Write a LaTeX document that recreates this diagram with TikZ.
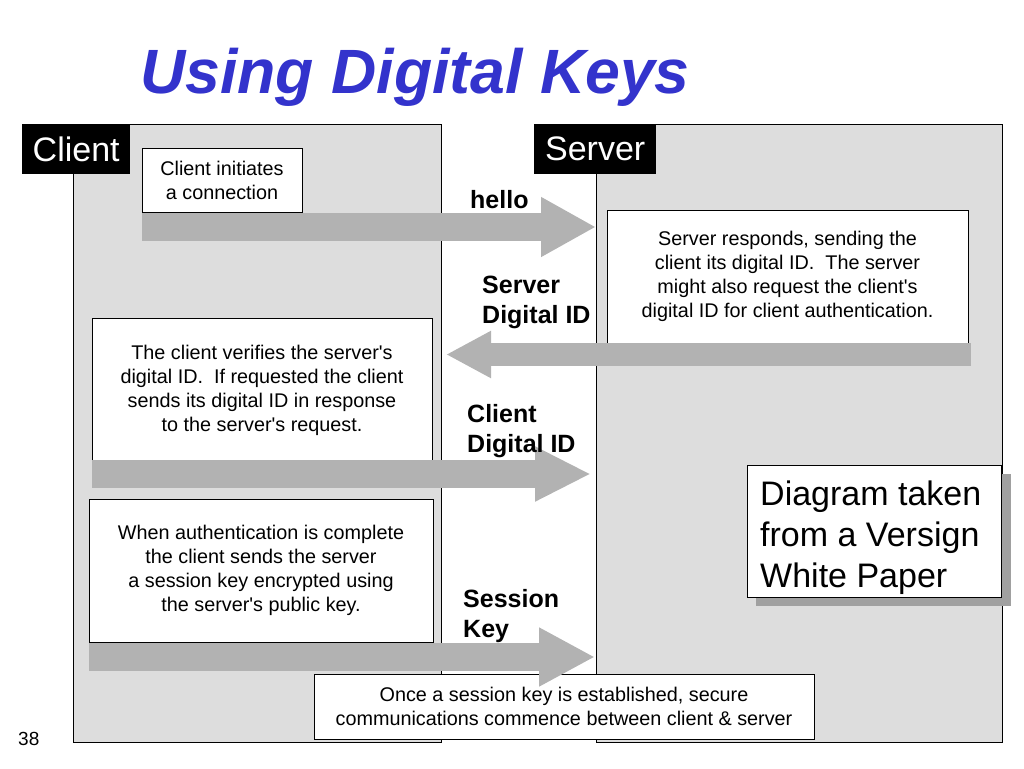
\documentclass[tikz,border=0pt]{standalone}
\usepackage{fontspec}
\setmainfont{Liberation Sans}[Ligatures=TeXOff]
\usetikzlibrary{arrows.meta}
\definecolor{titleblue}{RGB}{51,51,204}
\definecolor{panelgray}{RGB}{221,221,221}
\definecolor{arrowgray}{RGB}{178,178,178}
\definecolor{shadowgray}{RGB}{160,160,160}
\begin{document}
\begin{tikzpicture}[x=1pt,y=-1pt,
  panel/.style={draw=black, line width=1.2pt, fill=panelgray, inner sep=0pt, anchor=north west},
  tag/.style={fill=black, text=white, inner sep=0pt, anchor=north west, font=\fontsize{34}{40}\selectfont},
  msgbox/.style={draw=black, line width=1pt, fill=white, inner sep=0pt, align=center, font=\fontsize{19.8}{24}\selectfont},
  flow/.style={draw=arrowgray, line width=#1},
  lbl/.style={inner sep=0pt, align=left, anchor=base west, font=\bfseries\fontsize{25}{30}\selectfont},
]
\useasboundingbox (0,0) rectangle (1024,768);
% title
\node[anchor=base west, inner sep=0pt, text=titleblue, font=\bfseries\itshape\fontsize{62.6}{70}\selectfont] (title) at (140,93) {Using Digital Keys};
% panels
\node[panel, minimum width=368pt, minimum height=618pt] (cpanel) at (73,124) {};
\node[panel, minimum width=406pt, minimum height=618pt] (spanel) at (596,124) {};
\node[tag, minimum width=108pt, minimum height=50pt] (ctag) at (22,124) {Client};
\node[tag, minimum width=122pt, minimum height=50pt] (stag) at (534,124) {Server};
% message boxes
\node[msgbox, minimum width=160pt, minimum height=64pt] (cinit) at (222,180) {Client initiates\\a connection};
\node[msgbox, minimum width=361pt, minimum height=133pt] (sresp) at (787.5,276.5) {Server responds, sending the\\client its digital ID.\ \ The server\\might also request the client's\\digital ID for client authentication.};
\node[msgbox, minimum width=340pt, minimum height=145pt] (cver) at (262,390.5) {The client verifies the server's\\digital ID.\ \ If requested the client\\sends its digital ID in response\\to the server's request.};
\node[msgbox, minimum width=344pt, minimum height=143pt] (cauth) at (261,570.5) {When authentication is complete\\the client sends the server\\a session key encrypted using\\the server's public key.};
% note with shadow
\fill[shadowgray] (756,474) rectangle (1011,606);
\node[msgbox, minimum width=254pt, minimum height=132pt, anchor=north west] (note) at (747,465) {};
\node[inner sep=0pt, anchor=base west, align=left, font=\fontsize{34}{41}\selectfont] (notetext) at (760,587) {Diagram taken\\from a Versign\\White Paper};
% flow arrows
\coordinate (h0) at (142,227); \coordinate (h1) at (596,227);
\coordinate (s0) at (971,354.5); \coordinate (s1) at (446,354.5);
\coordinate (c0) at (92,474); \coordinate (c1) at (591,474);
\coordinate (k0) at (89,657); \coordinate (k1) at (595,657);
\draw[flow=28pt, -{Triangle[length=55pt,width=56pt]}] (h0) -- (h1);
\draw[flow=23pt, -{Triangle[length=45pt,width=44pt]}] (s0) -- (s1);
\draw[flow=28pt, -{Triangle[length=56pt,width=51pt]}] (c0) -- (c1);
% final box
\node[msgbox, minimum width=500pt, minimum height=65pt] (final) at (564,706.5) {Once a session key is established, secure\\communications commence between client \& server};
\draw[flow=28pt, -{Triangle[length=56pt,width=55pt]}] (k0) -- (k1);
% labels
\node[lbl] (lhello) at (470,208) {hello};
\node[lbl] (lsid) at (482,323) {Server\\Digital ID};
\node[lbl] (lcid) at (467,452) {Client\\Digital ID};
\node[lbl] (lkey) at (463,637) {Session\\Key};
% page number
\node[inner sep=0pt, anchor=base west, font=\fontsize{19}{22}\selectfont] (pnum) at (18,745) {38};
\end{tikzpicture}
\end{document}
